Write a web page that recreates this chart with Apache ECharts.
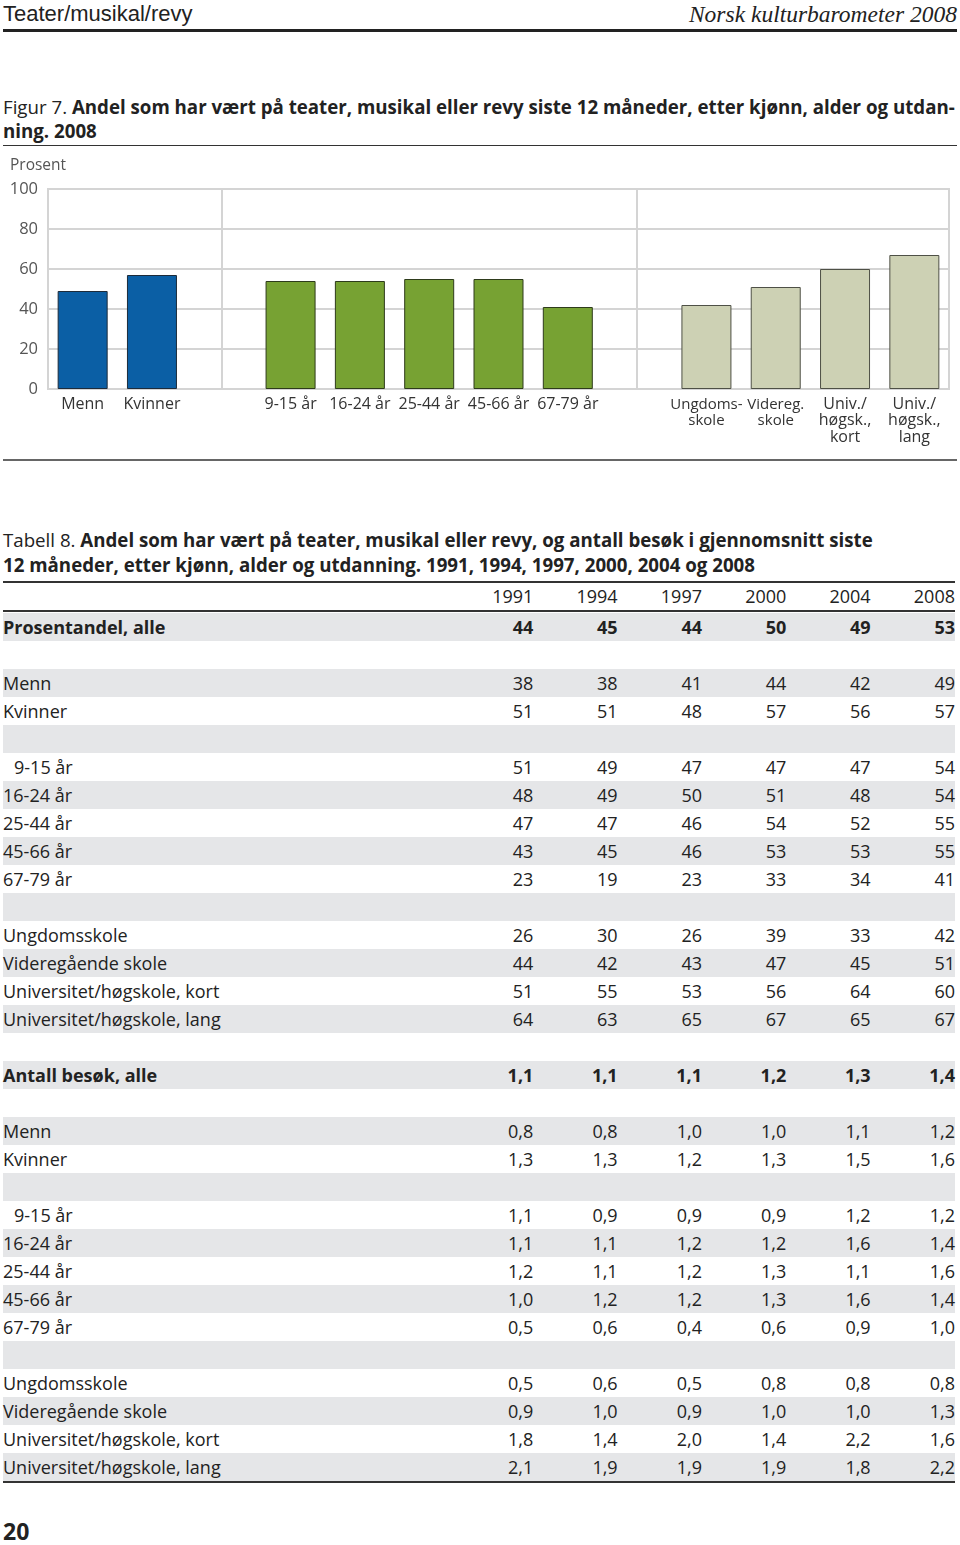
<!DOCTYPE html>
<html>
<head>
<meta charset="utf-8">
<script src="https://cdn.jsdelivr.net/npm/echarts@6/dist/echarts.min.js"></script>
<style>
  html,body{margin:0;padding:0;background:#fff;}
  body{width:960px;height:1545px;position:relative;font-family:"Open Sans","Noto Sans",sans-serif;color:#222;overflow:hidden;}
  .abs{position:absolute;}
  #hdrL{left:3px;top:0px;font-family:"Liberation Sans Narrow","Liberation Sans",sans-serif;font-size:22px;line-height:28px;color:#222;}
  #hdrR{right:3px;top:0px;font-family:"Liberation Serif",serif;font-style:italic;font-size:23.5px;line-height:28px;color:#222;}
  #hdrRule{left:3px;top:29px;width:954px;height:3px;background:#222;}
  #figTitle{left:3px;top:95px;font-size:18.7px;line-height:24px;white-space:nowrap;color:#222;}
  #figTitle b{font-weight:700;}
  #figRule{left:3px;top:145px;width:954px;height:1px;background:#333;}
  #chart{left:0;top:150px;width:960px;height:305px;}
  #chartRule{left:3px;top:459px;width:954px;height:2px;background:#666;}
  #tabTitle{left:3px;top:527px;font-size:18.7px;line-height:25px;white-space:nowrap;color:#222;}
  #tabRule1{left:3px;top:581px;width:952px;height:2px;background:#333;}
  #tabRule2{left:3px;top:610px;width:952px;height:2px;background:#333;}
  #tabRule3{left:3px;top:1481px;width:952px;height:2px;background:#333;}
  #thead{left:3px;top:583px;width:952px;height:27px;}
  #tbody{left:3px;top:613px;width:952px;}
  table{border-collapse:collapse;table-layout:fixed;width:952px;font-size:18px;}
  td{height:28px;padding:0;line-height:28px;white-space:nowrap;}
  td.num{text-align:right;}
  tr.g td{background:#e5e6e8;}
  tr.b td{font-weight:700;}
  td.ind{padding-left:11px;}
  #pageNo{left:3px;top:1516px;font-size:23px;font-weight:700;line-height:30px;color:#222;}
</style>
</head>
<body>
<div id="hdrL" class="abs">Teater/musikal/revy</div>
<div id="hdrR" class="abs">Norsk kulturbarometer 2008</div>
<div id="hdrRule" class="abs"></div>
<div id="figTitle" class="abs">Figur 7. <b>Andel som har vært på teater, musikal eller revy siste 12 måneder, etter kjønn, alder og utdan-<br>ning. 2008</b></div>
<div id="figRule" class="abs"></div>
<div id="chart" class="abs"></div>
<div id="chartRule" class="abs"></div>
<div id="tabTitle" class="abs">Tabell 8. <b>Andel som har vært på teater, musikal eller revy, og antall besøk i gjennomsnitt siste<br>12 måneder, etter kjønn, alder og utdanning. 1991, 1994, 1997, 2000, 2004 og 2008</b></div>
<div id="tabRule1" class="abs"></div>
<div id="thead" class="abs"></div>
<div id="tabRule2" class="abs"></div>
<div id="tbody" class="abs"></div>
<div id="tabRule3" class="abs"></div>
<div id="pageNo" class="abs">20</div>
<script>
// ---------- Figure 7 data ----------
var chartCategories = ['Menn','Kvinner',' ','9-15 år','16-24 år','25-44 år','45-66 år','67-79 år','  ','Ungdoms-\nskole','Videreg.\nskole','Univ./\nhøgsk.,\nkort','Univ./\nhøgsk.,\nlang'];
var chartGroups = ['kjonn','kjonn',null,'alder','alder','alder','alder','alder',null,'utd','utd','utd','utd'];
var chartValues = [49,57,'-',54,54,55,55,41,'-',42,51,60,67];
var yTicks = [0,20,40,60,80,100];
var separatorIndex = [2,8];

// ---------- Table 8 data ----------
var years = ['1991','1994','1997','2000','2004','2008'];
var rowLabels = ['Menn','Kvinner','','9-15 år','16-24 år','25-44 år','45-66 år','67-79 år','','Ungdomsskole','Videregående skole','Universitet/høgskole, kort','Universitet/høgskole, lang'];
var pctAll = [44,45,44,50,49,53];
var pctRows = [
  [38,38,41,44,42,49],
  [51,51,48,57,56,57],
  null,
  [51,49,47,47,47,54],
  [48,49,50,51,48,54],
  [47,47,46,54,52,55],
  [43,45,46,53,53,55],
  [23,19,23,33,34,41],
  null,
  [26,30,26,39,33,42],
  [44,42,43,47,45,51],
  [51,55,53,56,64,60],
  [64,63,65,67,65,67]
];
var visitsAll = [1.1,1.1,1.1,1.2,1.3,1.4];
var visitsRows = [
  [0.8,0.8,1.0,1.0,1.1,1.2],
  [1.3,1.3,1.2,1.3,1.5,1.6],
  null,
  [1.1,0.9,0.9,0.9,1.2,1.2],
  [1.1,1.1,1.2,1.2,1.6,1.4],
  [1.2,1.1,1.2,1.3,1.1,1.6],
  [1.0,1.2,1.2,1.3,1.6,1.4],
  [0.5,0.6,0.4,0.6,0.9,1.0],
  null,
  [0.5,0.6,0.5,0.8,0.8,0.8],
  [0.9,1.0,0.9,1.0,1.0,1.3],
  [1.8,1.4,2.0,1.4,2.2,1.6],
  [2.1,1.9,1.9,1.9,1.8,2.2]
];

// ---------- Chart ----------
var colors = {kjonn:'#0b5fa5', alder:'#77a233', utd:'#cdd1b4'};
var borders = {kjonn:'#1d2b3a', alder:'#2e3b1c', utd:'#4e5046'};
var chart = echarts.init(document.getElementById('chart'), null, {renderer:'canvas'});
chart.setOption({
  animation:false,
  textStyle:{fontFamily:'"Open Sans","Noto Sans",sans-serif'},
  grid:{left:48, top:39, width:901, height:200, show:true, borderColor:'#d4d4d4', borderWidth:2, containLabel:false},
  graphic:[{type:'text', left:10, top:8, style:{text:'Prosent', fontSize:15.5, fill:'#555', fontFamily:'"Open Sans",sans-serif'}}],
  xAxis:{
    type:'category', data:chartCategories, boundaryGap:true,
    axisLine:{show:true, lineStyle:{color:'#d4d4d4', width:2}},
    axisTick:{show:false},
    axisLabel:{
      interval:0, fontSize:16, color:'#333', lineHeight:16.5, margin:7, align:'center',
      formatter:function(v, i){
        if (i === 9 || i === 10) {
          return v.split('\n').map(function(s){return '{s|'+s+'}';}).join('\n');
        }
        return v;
      },
      rich:{s:{fontSize:15, lineHeight:16.5, color:'#333'}}
    }
  },
  yAxis:{
    type:'value', min:yTicks[0], max:yTicks[yTicks.length-1], interval:20,
    axisLine:{show:false}, axisTick:{show:false},
    axisLabel:{fontSize:16.5, color:'#555', margin:10},
    splitLine:{show:true, lineStyle:{color:'#d4d4d4', width:2}}
  },
  series:[{
    type:'bar', barWidth:50,
    data:chartValues.map(function(v,i){
      var g = chartGroups[i];
      if (!g) return v;
      return {value:v, itemStyle:{color:colors[g], borderColor:borders[g], borderWidth:1}};
    }),
    markLine:{
      silent:true, symbol:'none', label:{show:false},
      lineStyle:{color:'#d4d4d4', width:2, type:'solid'},
      data:separatorIndex.map(function(i){return {xAxis:i};})
    }
  }]
});

// ---------- Table ----------
function fmt(v, dec){ return dec ? v.toFixed(1).replace('.', ',') : String(v); }
var colgroup = '<colgroup><col style="width:446px">' + years.map(function(){return '<col style="width:84.33px">';}).join('') + '</colgroup>';
document.getElementById('thead').innerHTML = '<table style="height:27px">' + colgroup + '<tr><td style="height:27px;line-height:27px"></td>' +
  years.map(function(y){return '<td class="num" style="height:27px;line-height:27px">'+y+'</td>';}).join('') + '</tr></table>';

var rows = [];
function addRow(label, vals, dec, bold){
  rows.push({label:label, vals:vals, dec:dec, bold:bold});
}
addRow('Prosentandel, alle', pctAll, false, true);
addRow('', null);
rowLabels.forEach(function(l,i){ addRow(l, pctRows[i], false, false); });
addRow('', null);
addRow('Antall besøk, alle', visitsAll, true, true);
addRow('', null);
rowLabels.forEach(function(l,i){ addRow(l, visitsRows[i], true, false); });

var html = '<table>' + colgroup;
rows.forEach(function(r, idx){
  var cls = (idx % 2 === 0 ? 'g' : '') + (r.bold ? ' b' : '');
  var ind = r.label === '9-15 år' ? ' class="ind"' : '';
  html += '<tr class="'+cls+'"><td'+ind+'>'+r.label+'</td>';
  for (var k=0;k<6;k++){
    html += '<td class="num">' + (r.vals ? fmt(r.vals[k], r.dec) : '') + '</td>';
  }
  html += '</tr>';
});
html += '</table>';
document.getElementById('tbody').innerHTML = html;
</script>
</body>
</html>
